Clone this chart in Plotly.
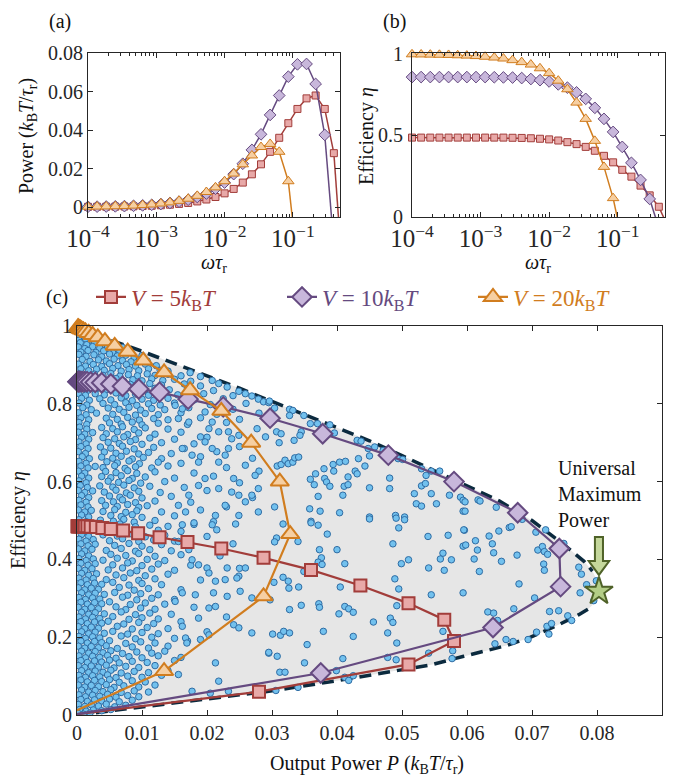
import plotly.graph_objects as go

W, H = 677, 777
FONT = "Liberation Serif, DejaVu Serif, serif"
AX = "#262626"

# ---------------- data ----------------
omega = [1.0e-4, 1.359e-4, 1.848e-4, 2.512e-4, 3.415e-4, 4.642e-4, 6.310e-4, 8.577e-4,
         1.166e-3, 1.585e-3, 2.154e-3, 2.929e-3, 3.981e-3, 5.412e-3, 7.356e-3, 1.0e-2,
         1.359e-2, 1.848e-2, 2.512e-2, 3.415e-2, 4.642e-2, 6.310e-2, 8.577e-2, 0.1166,
         0.1585, 0.2154, 0.2929, 0.3981, 0.5412]

# V = 5 kBT (squares)
sq_P = [0.00008, 0.00011, 0.00015, 0.0002, 0.00027, 0.00036, 0.0005, 0.00065, 0.0009, 0.0012,
        0.0016, 0.0021, 0.0029, 0.0039, 0.0052, 0.0071, 0.0094, 0.0127, 0.017, 0.0222,
        0.0287, 0.036, 0.0436, 0.051, 0.0565, 0.058, 0.051, 0.028]
sq_eta = [0.485, 0.485, 0.485, 0.485, 0.485, 0.485, 0.485, 0.485, 0.485, 0.485, 0.485,
          0.484, 0.483, 0.481, 0.478, 0.474, 0.467, 0.457, 0.445, 0.428, 0.404, 0.373,
          0.333, 0.287, 0.245, 0.19, 0.13, 0.06]
# V = 10 kBT (diamonds)
dia_P = [0.00014, 0.00019, 0.00025, 0.00034, 0.00046, 0.00063, 0.00085, 0.00115, 0.00155,
         0.0021, 0.0028, 0.0038, 0.0052, 0.007, 0.0095, 0.0127, 0.0171, 0.0225, 0.0297,
         0.0378, 0.0479, 0.058, 0.0678, 0.0742, 0.0744, 0.064, 0.0375]
dia_eta = [0.857, 0.857, 0.857, 0.857, 0.857, 0.857, 0.857, 0.857, 0.857, 0.856, 0.855,
           0.854, 0.851, 0.845, 0.838, 0.83, 0.812, 0.792, 0.763, 0.723, 0.668, 0.60,
           0.52, 0.428, 0.33, 0.225, 0.108]
# V = 20 kBT (triangles)
tri_P = [0.00016, 0.00022, 0.0003, 0.0004, 0.00053, 0.00072, 0.001, 0.0013, 0.0018, 0.0024,
         0.0032, 0.0043, 0.0058, 0.0078, 0.0102, 0.0134, 0.0174, 0.0222, 0.0268, 0.0312,
         0.0328, 0.0287, 0.0134]
tri_eta = [0.997, 0.996, 0.995, 0.994, 0.993, 0.991, 0.989, 0.986, 0.982, 0.977, 0.971,
           0.961, 0.949, 0.934, 0.911, 0.881, 0.835, 0.782, 0.70, 0.60, 0.465, 0.305, 0.113]

# continuation of the curves past the last marker (next frequency)
sq_P_next, sq_eta_next = -0.038, -0.065
dia_P_next, dia_eta_next = -0.02, -0.07
tri_P_next, tri_eta_next = -0.03, -0.15
# end of the parametric curves in (c) at zero power
sq_end = (0.0, 0.002)
dia_end = (0.0, 0.002)
tri_end = (0.0, 0.012)

# bounds of the accessible region (P in 1e-4, eta in 1e-3)
up_P = [0, 50, 100, 150, 200, 250, 300, 350, 400, 450, 500, 550, 600, 650, 700, 750, 780, 793]
up_eta = [1000, 965, 935, 904, 872, 840, 806, 772, 740, 705, 667, 628, 590, 550, 500, 437, 395, 370]
lo_P = [0, 100, 200, 300, 400, 470, 545, 595, 626, 662, 698, 736, 772, 786]
lo_eta = [0, 20, 40, 62, 88, 108, 129, 151, 164, 179, 200, 228, 258, 272]
tip_P = [800, 803, 799]
tip_eta = [345, 318, 292]

star_P, star_eta = 0.0803, 0.318

# random-protocol cloud (P in 1e-4, eta in 1e-3)
cloud_dense = [
    (3,995),(3,986),(12,983),(4,977),(14,973),(25,976),(3,963),(13,967),(24,962),(36,966),
    (5,957),(15,952),(27,956),(40,953),(52,957),(2,946),(12,942),(24,947),(35,943),(47,946),(60,941),(70,945),
    (6,933),(17,937),(29,932),(41,936),(55,931),(66,935),(80,933),
    (3,927),(14,922),(26,926),(38,921),(50,928),(62,923),(75,925),(88,920),(100,924),
    (8,914),(20,909),(33,913),(45,910),(57,915),(70,911),(83,908),(96,913),(108,910),
    (2,902),(13,897),(25,901),(38,896),(50,903),(63,898),(76,901),(90,897),(105,902),(122,898),
    (6,890),(18,885),(30,889),(42,886),(55,891),(68,884),(80,888),(95,885),(110,890),(128,886),(140,884),
    (3,877),(15,872),(27,876),(40,873),(52,878),(66,871),(79,875),(93,872),(108,877),(120,873),(140,876),(160,872),
    (8,864),(20,859),(33,863),(46,860),(60,865),(72,858),(86,862),(100,859),(115,864),(132,860),(150,863),(175,858),
    (2,852),(14,847),(26,851),(40,848),(55,853),(68,846),(82,850),(97,847),(112,852),(130,848),(165,851),(190,846),
    (5,840),(17,835),(30,839),(45,836),(58,841),(72,834),(88,838),(104,835),(120,840),(142,836),(170,839),(210,834),
    (2,827),(13,822),(28,826),(42,823),(60,828),(75,821),(90,825),(110,822),(130,827),(155,823),(195,826),(240,821),
    (7,814),(19,809),(35,813),(52,810),(68,815),(85,808),(100,812),(118,809),(140,814),(180,810),(225,813),
    (3,802),(15,797),(40,801),(58,798),(75,803),(92,796),(110,800),(128,797),(150,802),(205,798),(260,801),
    (9,790),(22,785),(48,789),(65,786),(80,791),(98,784),(115,788),(135,785),(172,790),(240,786),
    (2,777),(14,772),(30,776),(55,773),(72,778),(90,771),(105,775),(125,772),(160,777),(215,773),(280,776),
    (6,764),(18,759),(45,763),(62,760),(78,765),(96,758),(118,762),(140,759),(190,764),(250,760),
    (3,752),(15,747),(50,751),(68,748),(85,753),(100,746),(125,750),(170,747),(230,752),
    (4,740),(15,735),(38,739),(55,736),(70,741),(88,734),(105,738),(140,735),
    (2,727),(12,722),(24,726),(45,723),(62,728),(78,721),(95,725),(120,722),(160,727),
    (7,714),(18,709),(40,713),(58,710),(72,715),(90,708),(112,712),(150,709),(200,714),
    (3,702),(14,697),(48,701),(65,698),(82,703),(100,696),(130,700),(180,697),
    (6,690),(17,685),(36,689),(52,686),(70,691),(88,684),(118,688),(165,685),(250,690),
    (2,677),(13,672),(42,676),(60,673),(76,678),(95,671),(110,675),(145,672),(215,677),
    (8,664),(19,659),(38,663),(55,660),(68,665),(85,658),(102,662),(130,659),(190,664),(270,660),
    (3,652),(14,647),(46,651),(62,648),(80,653),(96,646),(125,650),(160,647),
    (6,640),(17,635),(28,639),(40,636),(58,641),(74,634),(90,638),(115,635),(140,640),(230,636),
    (2,627),(12,622),(44,626),(60,623),(78,628),(92,621),(120,625),(180,622),(280,627),
    (7,614),(18,609),(38,613),(52,610),(68,615),(85,608),(105,612),(150,609),(210,614),
    (3,602),(14,597),(48,601),(64,598),(80,603),(98,596),(135,600),(250,597),
    (5,590),(16,585),(35,589),(55,586),(72,591),(88,584),(112,588),(165,585),
    (2,577),(12,572),(24,576),(42,573),(60,578),(76,571),(95,575),(128,572),(200,577),
    (7,564),(18,559),(50,563),(66,560),(82,565),(100,558),(145,562),(270,559),
    (3,552),(14,547),(38,551),(56,548),(70,553),(90,546),(120,550),(175,547),
    (6,540),(17,535),(44,539),(62,536),(78,541),(95,534),(108,538),(230,535),
    (2,527),(12,522),(22,526),(40,523),(58,528),(75,521),(92,525),(130,522),(190,527),
    (7,514),(18,509),(52,513),(68,510),(85,515),(100,508),(150,512),
    (3,502),(14,497),(36,501),(56,498),(72,503),(88,496),(120,500),(210,497),
    (5,490),(16,485),(27,489),(48,486),(66,491),(90,484),(112,488),(140,485),(180,490),
    (2,477),(12,472),(23,476),(55,473),(75,478),(98,471),(125,475),(160,472),
    (7,464),(18,459),(40,463),(62,460),(85,465),(105,458),(135,462),(200,459),
    (3,452),(14,447),(25,451),(50,448),(70,453),(95,446),(118,450),(150,447),
    (6,440),(17,435),(28,439),(58,436),(80,441),(100,434),(130,438),(170,435),(240,440),
    (2,427),(12,422),(23,426),(45,423),(68,428),(90,421),(112,425),(145,422),
    (7,414),(18,409),(52,413),(75,410),(95,415),(120,408),(160,412),(220,409),
    (3,402),(14,397),(25,401),(40,398),(62,403),(85,396),(108,400),(135,397),
    (6,390),(17,385),(28,389),(55,386),(78,391),(100,384),(125,388),(175,385),
    (2,377),(12,372),(23,376),(48,373),(70,378),(92,371),(115,375),(150,372),(250,377),
    (7,364),(18,359),(30,363),(60,360),(82,365),(105,358),(140,362),
    (3,352),(14,347),(25,351),(45,348),(72,353),(95,346),(120,350),(190,347),
    (6,340),(16,335),(27,339),(38,336),(55,341),(80,334),(100,338),(130,335),
    (2,327),(12,322),(22,326),(33,323),(65,328),(88,321),(110,325),(160,322),
    (7,314),(18,309),(28,313),(42,310),(58,315),(78,308),(98,312),(125,309),(210,314),
    (3,302),(13,297),(24,301),(35,298),(70,303),(92,296),(115,300),(150,297),
    (6,290),(16,285),(27,289),(38,286),(50,291),(82,284),(105,288),(135,285),
    (2,277),(12,272),(22,276),(33,273),(60,278),(75,271),(98,275),(120,272),(180,277),
    (7,264),(18,259),(28,263),(42,260),(68,265),(90,258),(112,262),(145,259),
    (3,252),(13,247),(24,251),(35,248),(55,253),(80,246),(100,250),(125,247),(230,252),
    (6,240),(16,235),(27,239),(38,236),(48,241),(72,234),(95,238),(118,235),(160,240),
    (2,227),(12,222),(22,226),(33,223),(62,228),(85,221),(108,225),(140,222),
    (7,214),(18,209),(28,213),(42,210),(55,215),(78,208),(100,212),(125,209),(200,214),
    (3,202),(13,197),(24,201),(35,198),(68,203),(90,196),(115,200),(150,197),
    (6,190),(16,185),(27,189),(38,186),(50,191),(75,184),(98,188),(120,185),(170,190),
    (2,177),(12,172),(22,176),(33,173),(45,178),(62,171),(85,175),(110,172),(140,177),
    (7,164),(18,159),(28,163),(40,160),(52,165),(70,158),(92,162),(115,159),(135,164),
    (3,152),(13,147),(24,151),(35,148),(47,153),(60,146),(80,150),(100,147),(125,152),(160,148),
    (6,140),(16,135),(27,139),(38,136),(50,141),(65,134),(85,138),(108,135),(150,140),
    (2,127),(12,122),(22,126),(33,123),(45,128),(57,121),(75,125),(95,122),(120,127),
    (7,114),(18,109),(28,113),(40,110),(52,115),(68,108),(88,112),(110,109),(140,114),
    (3,102),(13,97),(24,101),(35,98),(47,103),(60,96),(78,100),(100,97),(130,102),
    (6,90),(16,85),(27,89),(38,86),(50,91),(65,84),(85,88),(105,85),
    (2,77),(12,72),(22,76),(33,73),(45,78),(57,71),(72,75),(95,72),(120,77),
    (7,64),(18,59),(28,63),(40,60),(52,65),(68,58),(88,62),(110,59),
    (3,52),(13,47),(24,51),(35,48),(47,53),(60,46),(78,50),(95,47),
    (6,40),(16,35),(27,39),(38,36),(50,41),(65,34),(85,38),
    (2,27),(12,22),(22,26),(33,23),(45,28),(58,21),(75,25),
    (4,14),(14,10),(25,13),(38,11),(52,14),(2,4),(10,2),(20,5),
]
cloud_sparse = [
    (174,880),(190,870),(208,860),(218,852),(231,843),(249,832),(259,826),(269,820),(279,812),
    (287,805),(295,803),(151,796),(162,787),(156,762),(172,753),(197,779),(208,753),(203,736),
    (190,715),(197,702),(218,728),(233,728),(238,710),(249,719),(277,736),(290,715),(162,685),
    (177,668),(187,650),(208,685),(218,650),(228,668),(233,685),(241,608),(259,642),(274,616),
    (279,582),(269,565),(238,573),(249,565),(259,548),(218,582),(197,608),(187,590),(172,565),
    (156,539),(167,522),(213,513),(228,539),(249,513),(279,522),
    (162,489),(180,494),(208,489),(215,476),(244,491),(156,446),(172,425),(177,399),(187,386),
    (200,378),(203,365),(231,378),(249,357),(259,378),(213,344),(228,348),(246,352),(162,314),
    (182,309),(203,275),(213,279),(231,305),(251,318),(269,301),(151,292),(187,249),(162,228),
    (203,206),(241,232),(249,224),(269,211),(167,198),(169,185),(190,194),(213,134),(218,87),
    (156,104),(177,61),(205,56),(233,61),(295,159),
    (296,807),(304,789),(327,786),(332,783),(327,770),(349,770),(359,749),(370,749),(389,746),
    (307,728),(314,723),(345,728),(343,719),(370,723),(396,725),(334,706),(311,700),(431,706),
    (437,704),(448,685),(458,689),(471,680),(494,659),(501,657),(530,633),(537,616),(545,627),
    (558,627),(308,640),(314,644),(320,655),(325,646),(332,650),(335,661),(341,663),(380,633),
    (394,644),(404,650),(413,652),(433,659),(450,666),(443,640),(428,627),(431,620),(395,627),
    (367,620),(359,606),(365,592),(381,608),(384,599),(389,588),(417,612),(411,588),(417,592),
    (409,565),(371,562),(450,584),(481,609),(481,582),(519,569),(530,589),(536,595),(545,569),
    (553,543),(573,565),(590,560),(594,552),(522,543),(530,537),(304,535),(358,530),(374,524),
    (404,520),(450,509),(490,513),(504,509),(594,524),(360,498),
    (317,491),(360,494),(371,488),(385,465),(307,455),(304,445),(340,446),(450,504),(491,506),
    (504,502),(495,481),(540,459),(571,462),(596,475),(486,440),(563,416),(576,399),(559,401),
    (594,434),(373,425),(400,425),(376,404),(371,393),(377,387),(412,389),(349,369),(499,389),
    (510,399),(541,378),(565,372),(317,354),(325,344),(303,341),(326,326),(341,329),(405,329),
    (489,350),(495,324),(545,309),(594,314),(297,296),(372,286),(373,277),(345,282),(327,271),
    (412,279),(418,273),(425,264),(403,260),(492,281),(456,239),(482,249),(486,238),(563,245),
    (563,215),(301,208),(313,205),(318,215),(327,211),(379,215),(425,202),(478,211),(354,181),
    (295,161),(308,151),(492,185),(409,145),(350,134),(478,148),(491,142),(541,159),(578,165),
    (577,145),(312,110),(320,110),(399,114),(412,97),(418,89),(425,101),(306,63),(340,71),
    (597,548),(617,553),(620,550),(645,534),(597,524),(685,503),(595,476),(649,473),(665,482),
    (668,484),(634,460),(639,440),(613,448),(616,424),(641,417),(598,437),(677,411),(706,470),
    (721,476),(709,424),(716,433),(719,420),(724,413),(749,441),
    (611,401),(653,395),(718,388),(719,372),(619,369),(680,337),(772,380),(776,362),(784,335),
    (774,314),(799,345),(795,294),(704,301),(672,273),(632,265),(641,262),(727,266),(741,268),
    (755,255),(761,243),(723,228),(730,235),(726,208),(707,213),(660,194),(671,189),(694,194),
    (643,183),(647,243),
]

# ---------------- figure ----------------
RED, RED_F = "#a23d3a", "#e8a9a8"
PUR, PUR_F = "#654a80", "#c8b7db"
ORA, ORA_F = "#d17d1f", "#f6cfa2"

fig = go.Figure()

def series(xs, ys, color, fill, symbol, size, lw, xa, ya, name=None, legend=False, lwidth=1.5):
    return go.Scatter(x=xs, y=ys, mode="lines+markers", xaxis=xa, yaxis=ya,
                      line=dict(color=color, width=lwidth),
                      marker=dict(symbol=symbol, size=size, color=fill,
                                  line=dict(color=color, width=lw)),
                      cliponaxis=False, showlegend=legend, name=name, hoverinfo="skip")

def tail(xs, ys, color, xa, ya, lwidth=1.5):
    return go.Scatter(x=xs, y=ys, mode="lines", xaxis=xa, yaxis=ya,
                      line=dict(color=color, width=lwidth), showlegend=False, hoverinfo="skip")

n_sq, n_dia, n_tri = len(sq_P), len(dia_P), len(tri_P)

# panel (a)
fig.add_trace(tail([omega[n_sq - 1], omega[n_sq]], [sq_P[-1], sq_P_next], RED, "x", "y"))
fig.add_trace(tail([omega[n_dia - 1], omega[n_dia]], [dia_P[-1], dia_P_next], PUR, "x", "y"))
fig.add_trace(tail([omega[n_tri - 1], omega[n_tri]], [tri_P[-1], tri_P_next], ORA, "x", "y"))
fig.add_trace(series(omega[:n_sq], sq_P, RED, RED_F, "square", 7, 1, "x", "y"))
fig.add_trace(series(omega[:n_dia], dia_P, PUR, PUR_F, "diamond", 9, 1, "x", "y"))
fig.add_trace(series(omega[:n_tri], tri_P, ORA, ORA_F, "triangle-up", 10, 1, "x", "y"))

# panel (b)
fig.add_trace(tail([omega[n_sq - 1], omega[n_sq]], [sq_eta[-1], sq_eta_next], RED, "x2", "y2"))
fig.add_trace(tail([omega[n_dia - 1], omega[n_dia]], [dia_eta[-1], dia_eta_next], PUR, "x2", "y2"))
fig.add_trace(tail([omega[n_tri - 1], omega[n_tri]], [tri_eta[-1], tri_eta_next], ORA, "x2", "y2"))
fig.add_trace(series(omega[:n_sq], sq_eta, RED, RED_F, "square", 7, 1, "x2", "y2"))
fig.add_trace(series(omega[:n_dia], dia_eta, PUR, PUR_F, "diamond", 9, 1, "x2", "y2"))
fig.add_trace(series(omega[:n_tri], tri_eta, ORA, ORA_F, "triangle-up", 10, 1, "x2", "y2"))

# panel (c): region
poly_P = [p * 1e-4 for p in up_P + tip_P + lo_P[::-1]]
poly_eta = [e * 1e-3 for e in up_eta + tip_eta + lo_eta[::-1]]
fig.add_trace(go.Scatter(x=poly_P, y=poly_eta, mode="lines", fill="toself", fillcolor="#e6e6e6",
                         line=dict(width=0), xaxis="x3", yaxis="y3", showlegend=False, hoverinfo="skip"))
for bp, be in ((up_P, up_eta), (lo_P, lo_eta)):
    fig.add_trace(go.Scatter(x=[p * 1e-4 for p in bp], y=[e * 1e-3 for e in be], mode="lines",
                             line=dict(color="#0b2a3e", width=3.5, dash="12px,7px"),
                             xaxis="x3", yaxis="y3", showlegend=False, hoverinfo="skip"))
cloud = cloud_dense + cloud_sparse
fig.add_trace(go.Scatter(x=[p * 1e-4 for p, _ in cloud], y=[e * 1e-3 for _, e in cloud],
                         mode="markers", xaxis="x3", yaxis="y3", showlegend=False, hoverinfo="skip",
                         marker=dict(size=6.5, color="#72c1ee", line=dict(color="#2f6ca3", width=1))))

fig.add_trace(tail([sq_P[-1], sq_end[0]], [sq_eta[-1], sq_end[1]], RED, "x3", "y3", 2.2))
fig.add_trace(tail([dia_P[-1], dia_end[0]], [dia_eta[-1], dia_end[1]], PUR, "x3", "y3", 2.2))
fig.add_trace(tail([tri_P[-1], tri_end[0]], [tri_eta[-1], tri_end[1]], ORA, "x3", "y3", 2.2))
lab = lambda v, c: f'<span style="color:{c}"><i>V</i> = {v}<i>k</i><sub>B</sub><i>T</i></span>'
fig.add_trace(series(sq_P, sq_eta, RED, RED_F, "square", 12, 2, "x3", "y3", lab(5, RED), True, 2.2))
fig.add_trace(series(dia_P, dia_eta, PUR, PUR_F, "diamond", 15, 2, "x3", "y3", lab(10, PUR), True, 2.2))
fig.add_trace(series(tri_P, tri_eta, ORA, ORA_F, "triangle-up", 16, 2, "x3", "y3", lab(20, ORA), True, 2.2))

# star
fig.add_trace(go.Scatter(x=[star_P], y=[star_eta], mode="markers", xaxis="x3", yaxis="y3",
                         showlegend=False, hoverinfo="skip", cliponaxis=False,
                         marker=dict(symbol="star", size=21, color="#b3cd86",
                                     line=dict(color="#4f6228", width=2))))

# block arrow above the star (in data units of panel c)
ax_c = star_P
sw, hw = 0.00062, 0.00158
y_top, y_head, y_tip = 0.4576, 0.3959, 0.360
arrow_path = (f"M {ax_c - sw},{y_top} L {ax_c + sw},{y_top} L {ax_c + sw},{y_head} "
              f"L {ax_c + hw},{y_head} L {ax_c},{y_tip} L {ax_c - hw},{y_head} "
              f"L {ax_c - sw},{y_head} Z")
fig.add_shape(type="path", path=arrow_path, xref="x3", yref="y3",
              fillcolor="#c4d79b", line=dict(color="#4f6228", width=2))

# ---------------- axes ----------------
def dom_x(a, b):
    return [a / W, b / W]

def dom_y(top, bot):
    return [1 - bot / H, 1 - top / H]

tick_font = dict(family=FONT, size=20, color=AX)
base = dict(showline=True, linecolor=AX, linewidth=1, mirror="ticks", ticks="inside",
            ticklen=5, tickcolor=AX, showgrid=False, zeroline=False, tickfont=tick_font,
            automargin=False)

logx = dict(base, type="log", range=[-4, -0.31], dtick=1, exponentformat="power",
            minor=dict(ticks="inside", ticklen=3, tickcolor=AX, showgrid=False))

fig.update_layout(
    width=W, height=H, margin=dict(l=0, r=0, t=0, b=0, autoexpand=False),
    paper_bgcolor="white", plot_bgcolor="white",
    font=dict(family=FONT, size=20, color="#111"),
    xaxis=dict(logx, domain=dom_x(88, 340), anchor="y"),
    yaxis=dict(base, domain=dom_y(53, 217), anchor="x", range=[-0.0052, 0.0801],
               tickvals=[0, 0.02, 0.04, 0.06, 0.08], ticktext=["0", "0.02", "0.04", "0.06", "0.08"]),
    xaxis2=dict(logx, domain=dom_x(412, 665), anchor="y2"),
    yaxis2=dict(base, domain=dom_y(53, 217), anchor="x2", range=[-0.003, 1.005],
                tickvals=[0, 0.5, 1], ticktext=["0", "0.5", "1"], ticklabelstandoff=4),
    xaxis3=dict(base, domain=dom_x(77, 662), anchor="y3", range=[0, 0.09],
                tickvals=[0, 0.01, 0.02, 0.03, 0.04, 0.05, 0.06, 0.07, 0.08],
                ticktext=["0", "0.01", "0.02", "0.03", "0.04", "0.05", "0.06", "0.07", "0.08"]),
    yaxis3=dict(base, domain=dom_y(326, 715), anchor="x3", range=[0, 1],
                tickvals=[0, 0.2, 0.4, 0.6, 0.8, 1], ticktext=["0", "0.2", "0.4", "0.6", "0.8", "1"]),
    legend=dict(orientation="h", x=91 / W, y=1 - 297 / H, xanchor="left", yanchor="middle",
                font=dict(family=FONT, size=23), bgcolor="rgba(0,0,0,0)",
                entrywidth=146, entrywidthmode="pixels", itemwidth=30, tracegroupgap=0),
)

def ann(text, x, y, size=20, angle=0, xanchor="center", align="center"):
    fig.add_annotation(text=text, x=x / W, y=1 - y / H, xref="paper", yref="paper",
                       showarrow=False, textangle=angle, xanchor=xanchor, yanchor="middle",
                       align=align, font=dict(family=FONT, size=size, color="#111"))

ann("(a)", 60, 22)
ann("(b)", 395, 22)
ann("(c)", 57, 297)
ann("Power (<i>k</i><sub>B</sub><i>T</i>/<i>τ</i><sub>r</sub>)", 27, 136, angle=-90)
ann("<i>ωτ</i><sub>r</sub>", 214, 263)
ann("Efficiency <i>η</i>", 366, 136, angle=-90)
ann("<i>ωτ</i><sub>r</sub>", 538, 263)
ann("Output Power <i>P</i> (<i>k</i><sub>B</sub><i>T</i>/<i>τ</i><sub>r</sub>)", 367, 764)
ann("Efficiency <i>η</i>", 18, 520, angle=-90)
ann("Universal<br>Maximum<br>Power", 556, 494, size=20, xanchor="left", align="left")

fig.write_html("out.html", config={"displayModeBar": False},
               post_script="document.body.style.margin='0px';")
